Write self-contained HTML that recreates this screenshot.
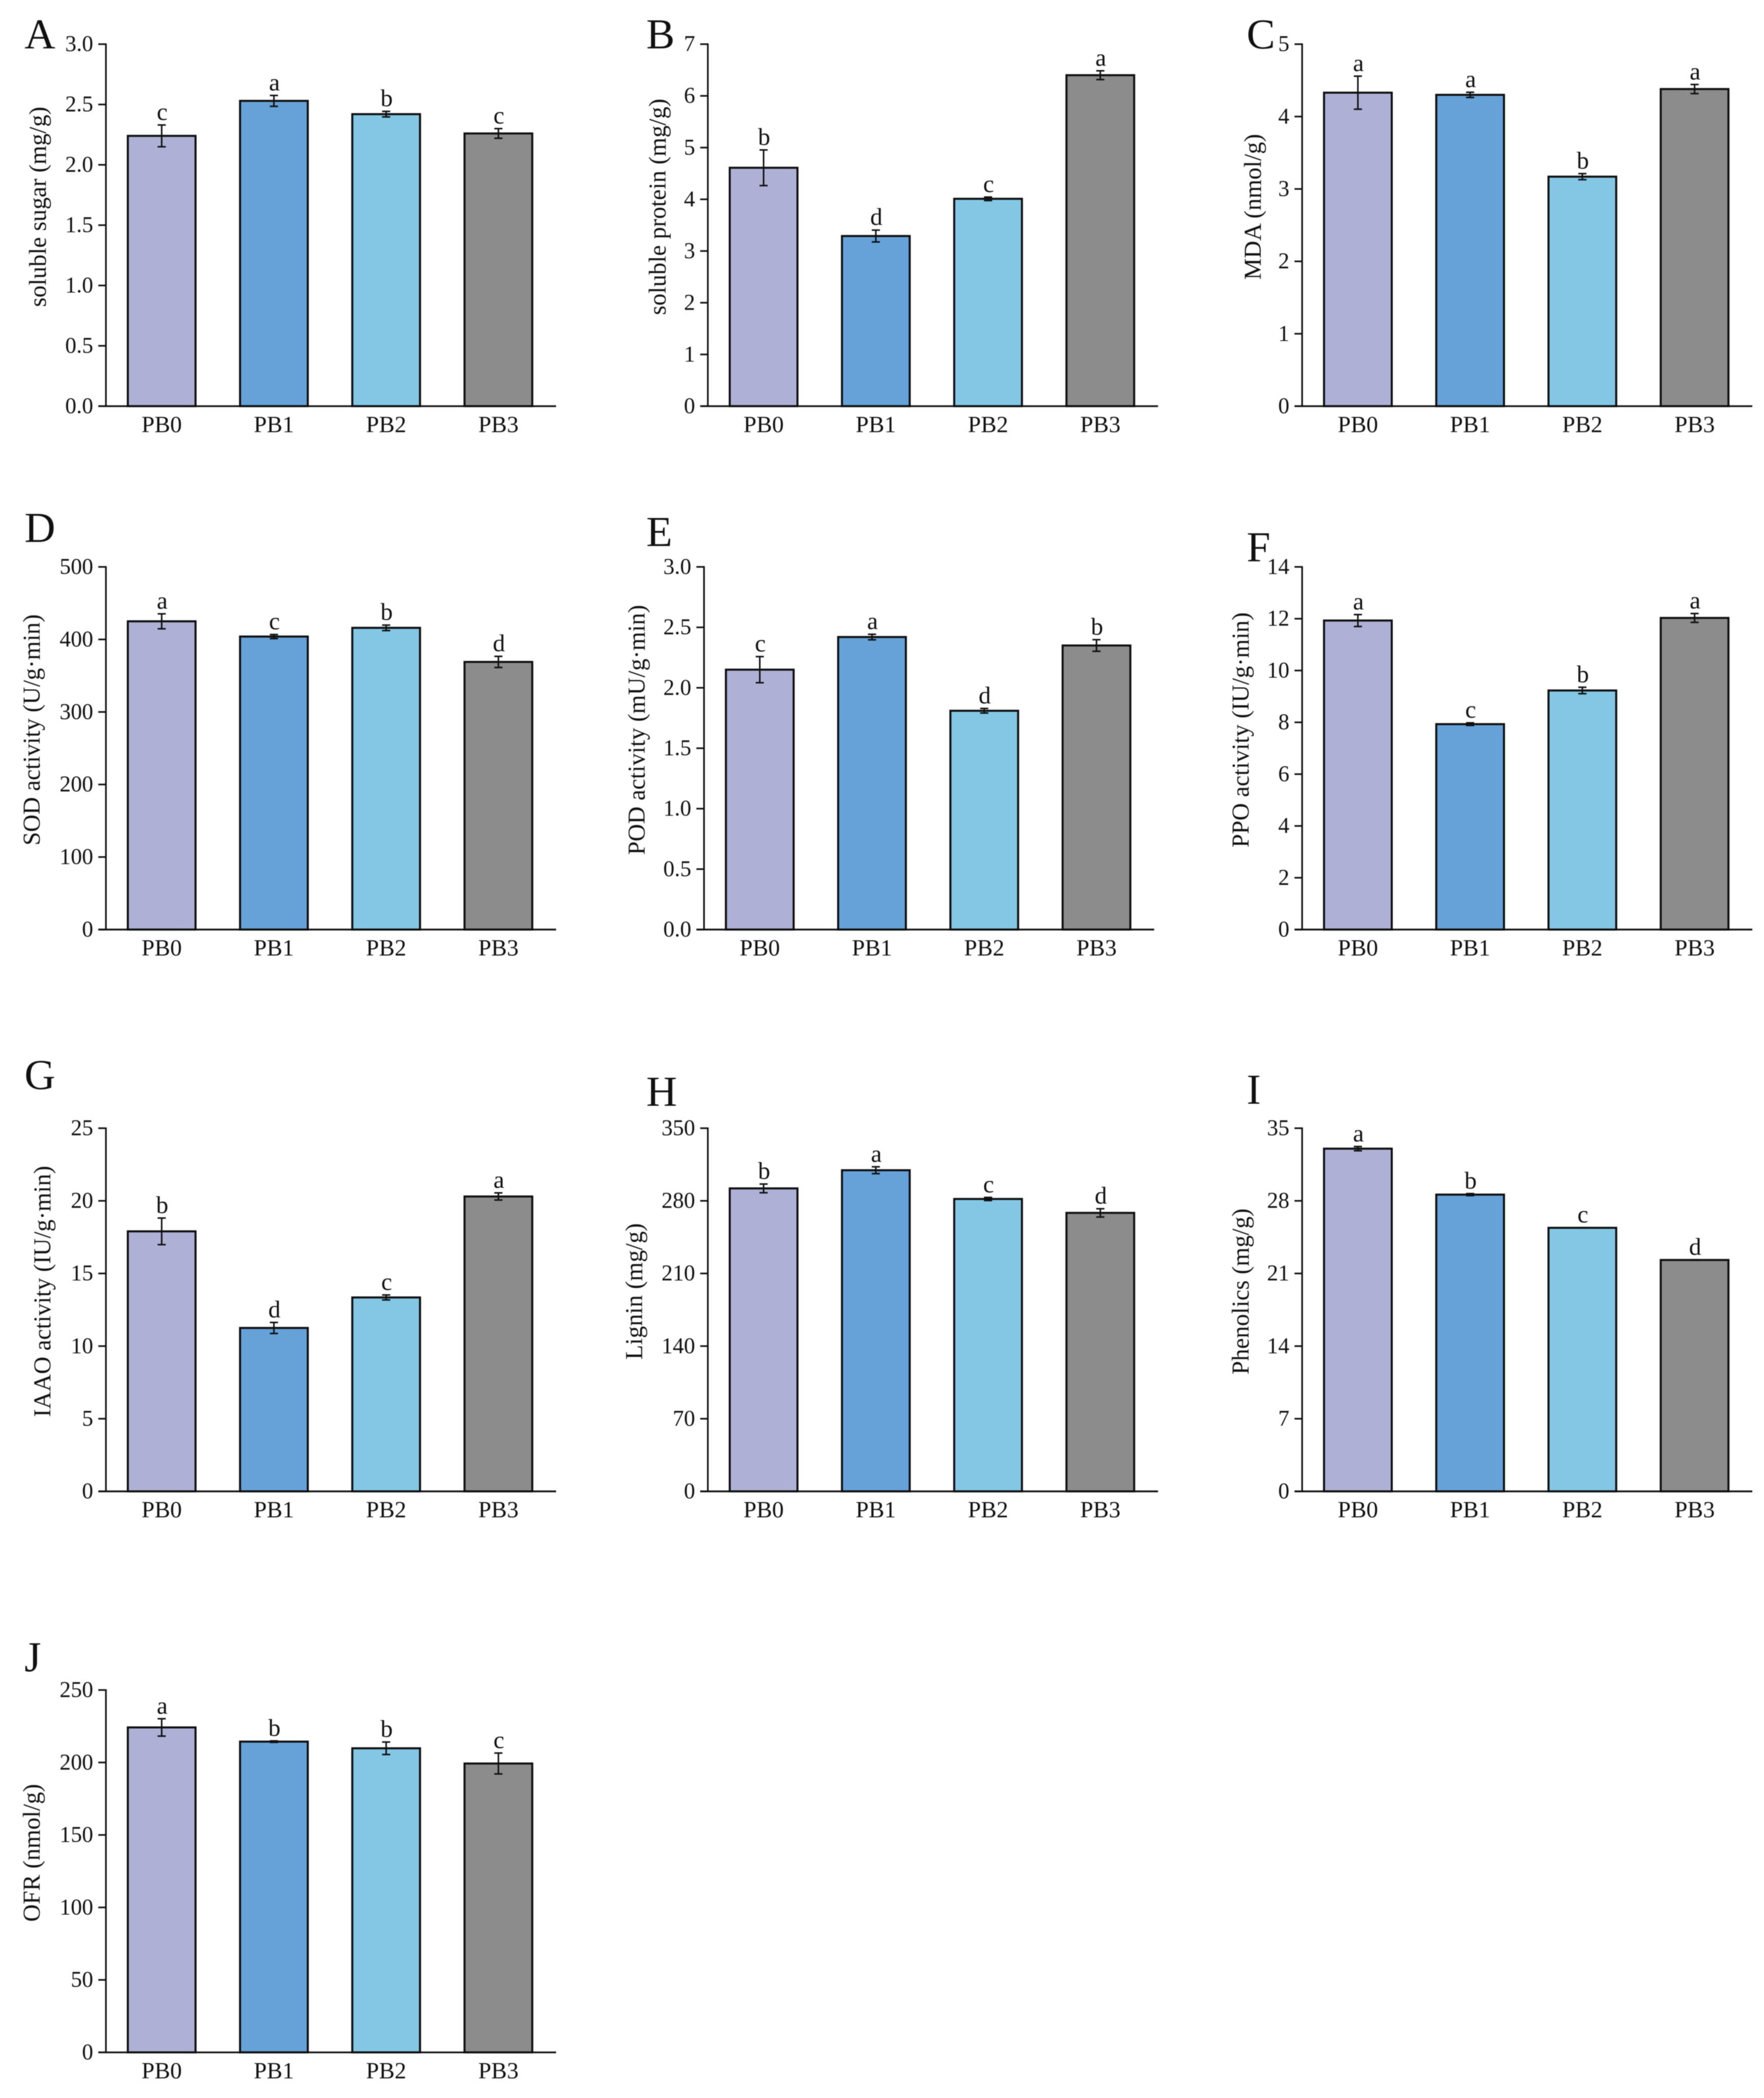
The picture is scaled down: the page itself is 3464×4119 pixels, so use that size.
<!DOCTYPE html>
<html lang="en">
<head>
<meta charset="utf-8">
<title>Physiological indices across PB treatments</title>
<style>
  html, body { margin: 0; padding: 0; background: #fff; }
  #figure { display: block; width: 3464px; height: 4119px; filter: blur(0.7px); }
  text { font-family: "Liberation Serif", serif; fill: #111; }
</style>
</head>
<body>
<svg id="figure" xmlns="http://www.w3.org/2000/svg" width="3464" height="4119" viewBox="0 0 3464 4119"></svg>
<script>
// ---- Data ----
const categories = ['PB0', 'PB1', 'PB2', 'PB3'];

const sugarTicks = ['0.0', '0.5', '1.0', '1.5', '2.0', '2.5', '3.0'];
const sugarValues = [2.24, 2.53, 2.42, 2.26];
const sugarErrors = [0.09, 0.045, 0.023, 0.04];
const sugarLetters = ['c', 'a', 'b', 'c'];

const proteinTicks = ['0', '1', '2', '3', '4', '5', '6', '7'];
const proteinValues = [4.61, 3.29, 4.01, 6.40];
const proteinErrors = [0.345, 0.115, 0.034, 0.085];
const proteinLetters = ['b', 'd', 'c', 'a'];

const mdaTicks = ['0', '1', '2', '3', '4', '5'];
const mdaValues = [4.33, 4.30, 3.17, 4.38];
const mdaErrors = [0.228, 0.036, 0.042, 0.063];
const mdaLetters = ['a', 'a', 'b', 'a'];

const sodTicks = ['0', '100', '200', '300', '400', '500'];
const sodValues = [425, 404, 416, 369];
const sodErrors = [10.3, 2.8, 3.8, 7.7];
const sodLetters = ['a', 'c', 'b', 'd'];

const podTicks = ['0.0', '0.5', '1.0', '1.5', '2.0', '2.5', '3.0'];
const podValues = [2.15, 2.42, 1.81, 2.35];
const podErrors = [0.108, 0.023, 0.019, 0.048];
const podLetters = ['c', 'a', 'd', 'b'];

const ppoTicks = ['0', '2', '4', '6', '8', '10', '12', '14'];
const ppoValues = [11.93, 7.93, 9.23, 12.03];
const ppoErrors = [0.23, 0.05, 0.124, 0.17];
const ppoLetters = ['a', 'c', 'b', 'a'];

const iaaoTicks = ['0', '5', '10', '15', '20', '25'];
const iaaoValues = [17.9, 11.25, 13.35, 20.3];
const iaaoErrors = [0.915, 0.38, 0.17, 0.245];
const iaaoLetters = ['b', 'd', 'c', 'a'];

const ligninTicks = ['0', '70', '140', '210', '280', '350'];
const ligninValues = [292, 309.5, 281.8, 268.4];
const ligninErrors = [4.2, 3.3, 1.5, 4];
const ligninLetters = ['b', 'a', 'c', 'd'];

const phenolicsTicks = ['0', '7', '14', '21', '28', '35'];
const phenolicsValues = [33.03, 28.6, 25.4, 22.3];
const phenolicsErrors = [0.2, 0.1, 0.02, 0.02];
const phenolicsLetters = ['a', 'b', 'c', 'd'];

const ofrTicks = ['0', '50', '100', '150', '200', '250'];
const ofrValues = [224.2, 214.4, 209.8, 199.3];
const ofrErrors = [6, 0.5, 4.3, 7.2];
const ofrLetters = ['a', 'b', 'b', 'c'];

// ---- Panels (content + placement on the page) ----
const panels = [
  { id: 'A', title: 'soluble sugar (mg/g)', ticks: sugarTicks, values: sugarValues, errors: sugarErrors, letters: sugarLetters,
    axisX: 208, top: 86.7, bottom: 797.4, titleX: 90, tagX: 48, tagY: 95 },
  { id: 'B', title: 'soluble protein (mg/g)', ticks: proteinTicks, values: proteinValues, errors: proteinErrors, letters: proteinLetters,
    axisX: 1390, top: 86.7, bottom: 797.4, titleX: 1307, tagX: 1269, tagY: 95 },
  { id: 'C', title: 'MDA (nmol/g)', ticks: mdaTicks, values: mdaValues, errors: mdaErrors, letters: mdaLetters,
    axisX: 2557, top: 86.7, bottom: 797.4, titleX: 2476, tagX: 2448, tagY: 95 },
  { id: 'D', title: 'SOD activity (U/g\u00B7min)', ticks: sodTicks, values: sodValues, errors: sodErrors, letters: sodLetters,
    axisX: 208, top: 1113, bottom: 1825, titleX: 78, tagX: 48, tagY: 1064 },
  { id: 'E', title: 'POD activity (mU/g\u00B7min)', ticks: podTicks, values: podValues, errors: podErrors, letters: podLetters,
    axisX: 1382.5, top: 1113, bottom: 1825, titleX: 1266, tagX: 1269, tagY: 1072 },
  { id: 'F', title: 'PPO activity (IU/g\u00B7min)', ticks: ppoTicks, values: ppoValues, errors: ppoErrors, letters: ppoLetters,
    axisX: 2557, top: 1113, bottom: 1825, titleX: 2452, tagX: 2448, tagY: 1102 },
  { id: 'G', title: 'IAAO activity (IU/g\u00B7min)', ticks: iaaoTicks, values: iaaoValues, errors: iaaoErrors, letters: iaaoLetters,
    axisX: 208, top: 2215, bottom: 2928, titleX: 99, tagX: 48, tagY: 2138 },
  { id: 'H', title: 'Lignin (mg/g)', ticks: ligninTicks, values: ligninValues, errors: ligninErrors, letters: ligninLetters,
    axisX: 1390, top: 2215, bottom: 2928, titleX: 1261, tagX: 1269, tagY: 2171 },
  { id: 'I', title: 'Phenolics (mg/g)', ticks: phenolicsTicks, values: phenolicsValues, errors: phenolicsErrors, letters: phenolicsLetters,
    axisX: 2557, top: 2215, bottom: 2928, titleX: 2452, tagX: 2448, tagY: 2167 },
  { id: 'J', title: 'OFR (nmol/g)', ticks: ofrTicks, values: ofrValues, errors: ofrErrors, letters: ofrLetters,
    axisX: 208, top: 3318, bottom: 4029.4, titleX: 78, tagX: 48, tagY: 3281 }
];

const barColors = ['#AEB1D5', '#66A2D8', '#83C7E5', '#8C8C8C'];
const INK = '#0f0f0f';
const NS = 'http://www.w3.org/2000/svg';
const svg = document.getElementById('figure');

function mk(parent, tag, attrs, content) {
  const el = document.createElementNS(NS, tag);
  for (const k in attrs) el.setAttribute(k, attrs[k]);
  if (content !== undefined) el.textContent = content;
  parent.appendChild(el);
  return el;
}

function yScale(p) {
  const max = parseFloat(p.ticks[p.ticks.length - 1]);
  const min = parseFloat(p.ticks[0]);
  return v => p.bottom - (v - min) / (max - min) * (p.bottom - p.top);
}

function xCenter(p, i) {
  return p.axisX + 109.5 + i * 220.4;
}

function drawPanel(p) {
  const key = p.id.toLowerCase();
  const y = yScale(p);
  const g = mk(svg, 'g', {});
  
  

  const tag = mk(g, 'text', { x: p.tagX, y: p.tagY, 'font-size': 84, fill: '#000' }, p.id);
  
  

  const midY = (p.top + p.bottom) / 2 - 36;
  const title = mk(g, 'text', {
    x: p.titleX, y: midY, 'font-size': 47.5, 'text-anchor': 'middle',
    transform: 'rotate(-90 ' + p.titleX + ' ' + midY + ')'
  }, p.title);
  
  

  // bars and their error bars / significance letters
  categories.forEach((cat, i) => {
    const cx = xCenter(p, i);
    const v = p.values[i];
    const e = p.errors[i];
    const bar = mk(g, 'rect', {
      x: cx - 66.5, y: y(v), width: 133, height: p.bottom - y(v),
      fill: barColors[i], stroke: INK, 'stroke-width': 4
    });
    
    

    const err = mk(g, 'path', {
      d: 'M' + (cx - 8) + ' ' + y(v + e) + 'H' + (cx + 8) +
         'M' + cx + ' ' + y(v + e) + 'V' + y(v - e) +
         'M' + (cx - 8) + ' ' + y(v - e) + 'H' + (cx + 8),
      fill: 'none', stroke: INK, 'stroke-width': 3
    });
    
    

    const letter = mk(g, 'text', {
      x: cx + 1, y: y(v + e) - 10, 'font-size': 48, 'text-anchor': 'middle'
    }, p.letters[i]);
    
    

    const label = mk(g, 'text', {
      x: cx, y: p.bottom + 51, 'font-size': 46, 'text-anchor': 'middle'
    }, cat);
    
    
  });

  // y axis
  const yAxis = mk(g, 'line', {
    x1: p.axisX, x2: p.axisX, y1: p.top - 1.5, y2: p.bottom,
    stroke: INK, 'stroke-width': 3.2
  });
  
  

  p.ticks.forEach(t => {
    const ty = y(parseFloat(t));
    const tick = mk(g, 'line', {
      x1: p.axisX - 15, x2: p.axisX, y1: ty, y2: ty,
      stroke: INK, 'stroke-width': 3.2
    });
    
    

    const lab = mk(g, 'text', {
      x: p.axisX - 25, y: ty + 13.5, 'font-size': 44, 'text-anchor': 'end'
    }, t);
    
    
  });

  // x axis
  const xAxis = mk(g, 'line', {
    x1: p.axisX - 15, x2: p.axisX + 884, y1: p.bottom, y2: p.bottom,
    stroke: INK, 'stroke-width': 3.4
  });
  
  
}

panels.forEach(drawPanel);
</script>
</body>
</html>
